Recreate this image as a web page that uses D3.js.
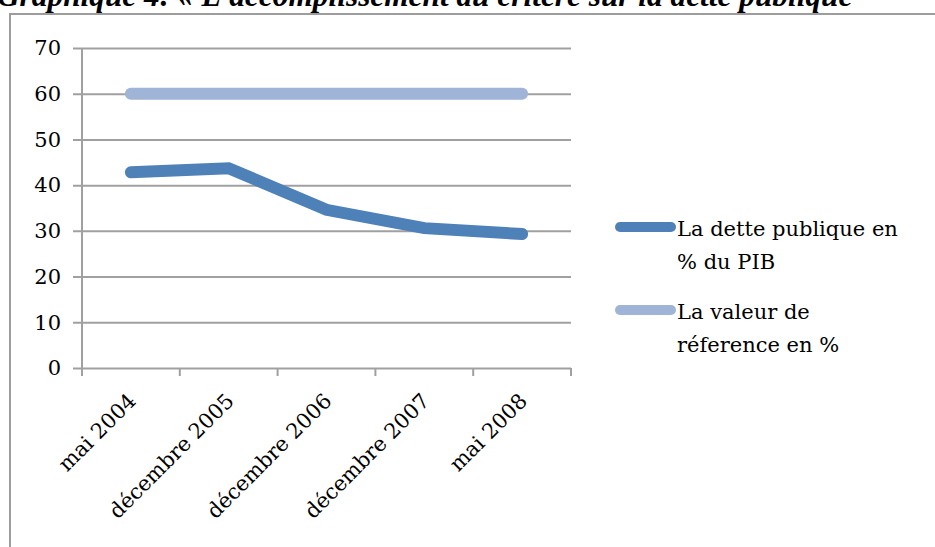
<!DOCTYPE html>
<html>
<head>
<meta charset="utf-8">
<script src="https://cdn.jsdelivr.net/npm/d3@7"></script>
<style>
  body { margin: 0; background: #fff; }
  svg { display: block; }
</style>
</head>
<body>
<div id="chart"></div>
<script>
// data
var categories = ["mai 2004", "décembre 2005", "décembre 2006", "décembre 2007", "mai 2008"];
var dette = [42.8, 43.7, 34.6, 30.6, 29.3];
var reference = [60, 60, 60, 60, 60];
var yTicks = [0, 10, 20, 30, 40, 50, 60, 70];
var seriesNames = [["La dette publique en", "% du PIB"], ["La valeur de", "réference en %"]];

var W = 935, H = 547;
var margin = {top: 48, left: 82, right: 364, bottom: 179};
var width = W - margin.left - margin.right,
    height = H - margin.top - margin.bottom;

var svg = d3.select("#chart").append("svg")
  .attr("width", W)
  .attr("height", H);

// title, cut off at the top like in the original
var title = svg.append("text")
  .attr("x", -3)
  .attr("y", 6)
  .style("font-family", "Liberation Serif")
  .style("font-weight", "bold")
  .style("font-style", "italic")
  .style("font-size", "24px")
  .text("Graphique 4: « L'accomplissement du critère sur la dette publique");
var tw = title.node().getComputedTextLength();
title.style("font-size", (24 * 856 / tw) + "px");

// outer chart frame
svg.append("rect")
  .attr("x", 10).attr("y", 14)
  .attr("width", 1000).attr("height", 600)
  .attr("fill", "none")
  .attr("stroke", "#9d9d9d")
  .attr("stroke-width", 2);

var g = svg.append("g")
  .attr("transform", "translate(" + margin.left + "," + margin.top + ")");

var x = d3.scaleBand().domain(categories).range([0, width]);
var y = d3.scaleLinear().domain([0, 70]).range([height, 0]);

var fontFam = "DejaVu Serif";

// gridlines + y axis
var yAxis = g.append("g")
  .call(d3.axisLeft(y).tickValues(yTicks).tickSize(-width).tickSizeOuter(0).tickPadding(21));
yAxis.select(".domain").remove();
yAxis.selectAll("line")
  .attr("x1", -9)
  .attr("stroke", "#a0a0a0")
  .attr("stroke-width", 2);
yAxis.selectAll("text")
  .style("font-family", fontFam)
  .style("font-size", "21px")
  .attr("fill", "#000");

// vertical axis line
g.append("line")
  .attr("x1", 0).attr("x2", 0)
  .attr("y1", 0).attr("y2", height)
  .attr("stroke", "#a0a0a0").attr("stroke-width", 2);

// x axis ticks at band edges
var edges = categories.map(function(d) { return x(d); }).concat([width]);
g.selectAll(".xtick").data(edges).enter().append("line")
  .attr("class", "xtick")
  .attr("x1", function(d) { return d; })
  .attr("x2", function(d) { return d; })
  .attr("y1", height).attr("y2", height + 8)
  .attr("stroke", "#a0a0a0").attr("stroke-width", 2);

g.selectAll(".xlab").data(categories).enter().append("text")
  .attr("class", "xlab")
  .attr("transform", function(d) {
    return "translate(" + (x(d) + x.bandwidth() / 2 - 4) + "," + (height + 24) + ") rotate(-45)";
  })
  .attr("text-anchor", "end")
  .attr("dy", "0.7em")
  .style("font-family", fontFam)
  .style("font-size", "21px")
  .text(function(d) { return d; });

// lines
var line = d3.line()
  .x(function(d, i) { return x(categories[i]) + x.bandwidth() / 2; })
  .y(function(d) { return y(d); });

var colors = ["#4e81b7", "#a0b4d7"];
[reference, dette].forEach(function(s) {
  g.append("path")
    .datum(s)
    .attr("d", line)
    .attr("fill", "none")
    .attr("stroke", s === dette ? colors[0] : colors[1])
    .attr("stroke-width", 12)
    .attr("stroke-linecap", "round")
    .attr("stroke-linejoin", "miter");
});

// legend
var legY = [227, 310];
seriesNames.forEach(function(lines, i) {
  svg.append("line")
    .attr("x1", 620).attr("x2", 671)
    .attr("y1", legY[i]).attr("y2", legY[i])
    .attr("stroke", colors[i])
    .attr("stroke-width", 10)
    .attr("stroke-linecap", "round");
  var t = svg.append("text")
    .attr("x", 677)
    .attr("y", legY[i] + 9)
    .style("font-family", fontFam)
    .style("font-size", "21px");
  lines.forEach(function(l, j) {
    t.append("tspan").attr("x", 677).attr("dy", j ? 33 : 0).text(l);
  });
});
</script>
</body>
</html>
